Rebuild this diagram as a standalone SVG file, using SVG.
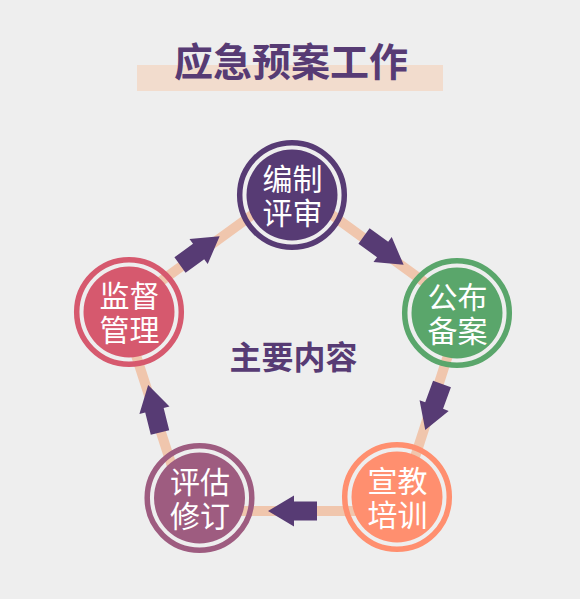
<svg xmlns="http://www.w3.org/2000/svg" xmlns:xlink="http://www.w3.org/1999/xlink" width="580" height="599" viewBox="0 0 580 599">
<style>
.title{font-family:"Noto Sans CJK SC","Noto Sans",sans-serif;font-weight:700;font-size:39px;fill:#573b74;text-anchor:middle}
.center{font-family:"Noto Sans CJK SC","Noto Sans",sans-serif;font-weight:700;font-size:32px;fill:#573b74;text-anchor:middle}
.lbl{font-family:"Noto Sans CJK SC","Noto Sans",sans-serif;font-weight:400;font-size:30px;fill:#ffffff;text-anchor:middle}
.ring{fill:none;stroke-width:5.5}
.edge{fill:none;stroke:#f0c6ad;stroke-width:10;stroke-linejoin:miter}
.arrow{fill:#573b74}
</style>
<defs>
<path id="arr" d="M0,-9.5 L23,-9.5 L23,-15.5 L49,0 L23,15.5 L23,9.5 L0,9.5 Z"/>
</defs>
<rect x="0" y="0" width="580" height="599" fill="#eeeeee"/>
<g id="title">
<rect x="137" y="65" width="306" height="26" fill="#f2dccd"/>
<text class="title" x="291" y="76">应急预案工作</text>
</g>
<g id="connectors">
<polygon class="edge" points="292,186 462.7,310 397.5,511 186.5,511 121.3,310"/>
<use href="#arr" xlink:href="#arr" class="arrow" transform="translate(364,236) rotate(36)"/>
<use href="#arr" xlink:href="#arr" class="arrow" transform="translate(442,384) rotate(110)"/>
<use href="#arr" xlink:href="#arr" class="arrow" transform="translate(317,511) rotate(180)"/>
<use href="#arr" xlink:href="#arr" class="arrow" transform="translate(160,432.5) rotate(-104)"/>
<use href="#arr" xlink:href="#arr" class="arrow" transform="translate(180,265) rotate(-36)"/>
</g>
<g id="center-label">
<text class="center" x="293.5" y="369">主要内容</text>
</g>
<g id="node-bianzhi">
<circle class="ring" cx="292" cy="195" r="52.3" stroke="#573b74"/>
<circle cx="292" cy="195" r="45.5" fill="#573b74"/>
<text class="lbl" x="292.5" y="189.5">编制<tspan x="292.5" dy="34.5">评审</tspan></text>
</g>
<g id="node-gongbu">
<circle class="ring" cx="457" cy="313" r="52.3" stroke="#5aa66b"/>
<circle cx="457" cy="313" r="45.5" fill="#5aa66b"/>
<text class="lbl" x="457.5" y="307.5">公布<tspan x="457.5" dy="34.5">备案</tspan></text>
</g>
<g id="node-xuanjiao">
<circle class="ring" cx="397" cy="497" r="52.3" stroke="#ff8f6f"/>
<circle cx="397" cy="497" r="45.5" fill="#ff8f6f"/>
<text class="lbl" x="397.5" y="491.5">宣教<tspan x="397.5" dy="34.5">培训</tspan></text>
</g>
<g id="node-pinggu">
<circle class="ring" cx="199.5" cy="498" r="52.3" stroke="#9e5c80"/>
<circle cx="199.5" cy="498" r="45.5" fill="#9e5c80"/>
<text class="lbl" x="200" y="492.5">评估<tspan x="200" dy="34.5">修订</tspan></text>
</g>
<g id="node-jiandu">
<circle class="ring" cx="129" cy="312" r="52.3" stroke="#d6596e"/>
<circle cx="129" cy="312" r="45.5" fill="#d6596e"/>
<text class="lbl" x="129.5" y="306.5">监督<tspan x="129.5" dy="34.5">管理</tspan></text>
</g>
</svg>
